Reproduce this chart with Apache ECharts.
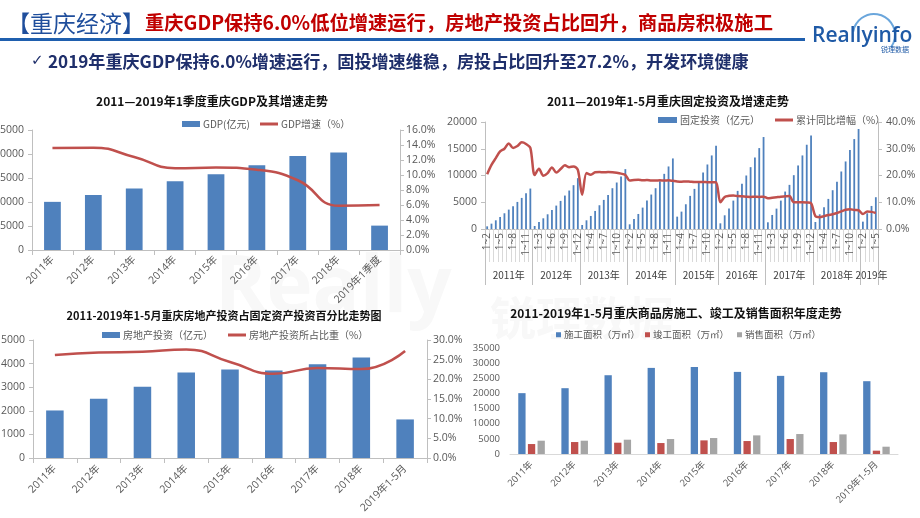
<!DOCTYPE html>
<html><head><meta charset="utf-8">
<script src="https://cdn.jsdelivr.net/npm/echarts@6/dist/echarts.min.js"></script>
<style>html,body{margin:0;padding:0;background:#fff}#c{width:920px;height:518px}</style>
</head><body><div id="c"></div>
<script>
// ---------- Chart 1: GDP ----------
const gdpCategories = ['2011年','2012年','2013年','2014年','2015年','2016年','2017年','2018年','2019年1季度'];
const gdpValues = [10030, 11460, 12800, 14330, 15800, 17680, 19560, 20330, 5080];
const gdpGrowth = [13.6, 13.65, 12.4, 10.9, 11.0, 10.7, 9.3, 5.9, 6.0];

// ---------- Chart 2: fixed-asset investment (monthly cumulative) ----------
const fiYears = ['2011年','2012年','2013年','2014年','2015年','2016年','2017年','2018年','2019年'];
const fiYearSizes = [11, 11, 11, 11, 10, 11, 11, 11, 4];
const fiMonths = [
  '1~2','1~3','1~4','1~5','1~6','1~7','1~8','1~9','1~10','1~11','1~12',
  '1~2','1~3','1~4','1~5','1~6','1~7','1~8','1~9','1~10','1~11','1~12',
  '1~2','1~3','1~4','1~5','1~6','1~7','1~8','1~9','1~10','1~11','1~12',
  '1~2','1~3','1~4','1~5','1~6','1~7','1~8','1~9','1~10','1~11','1~12',
  '1~3','1~4','1~5','1~6','1~7','1~8','1~9','1~10','1~11','1~12',
  '1~2','1~3','1~4','1~5','1~6','1~7','1~8','1~9','1~10','1~11','1~12',
  '1~2','1~3','1~4','1~5','1~6','1~7','1~8','1~9','1~10','1~11','1~12',
  '1~2','1~3','1~4','1~5','1~6','1~7','1~8','1~9','1~10','1~11','1~12',
  '1~2','1~3','1~4','1~5'
];
const fiInvest = [
  500, 1000, 1625, 2250, 2940, 3625, 4250, 5060, 5810, 6690, 7560,
  560, 1310, 2000, 2750, 3560, 4375, 5250, 6250, 7190, 8190, 9500,
  750, 1625, 2440, 3375, 4440, 5440, 6375, 7625, 8690, 9810, 11190,
  875, 1875, 2810, 4000, 5310, 6440, 7625, 8940, 10310, 11690, 13190,
  2310, 3250, 4625, 6190, 7500, 8875, 10560, 12060, 13750, 15560,
  1060, 2560, 3810, 5310, 7125, 8440, 10000, 11560, 13375, 15125, 17190,
  1250, 2625, 3810, 5310, 7000, 8250, 10060, 11875, 13750, 15750, 17500,
  1310, 2750, 4060, 5625, 7250, 8810, 10750, 12625, 14750, 16810, 18690,
  1375, 2940, 4310, 5940
];
const fiGrowth = [
  20.5, 24.0, 26.5, 29.0, 30.0, 32.0, 30.3, 31.0, 32.4, 31.8, 30.3,
  20.2, 22.5, 19.9, 20.9, 23.0, 21.1, 22.4, 23.8, 23.1, 23.4, 22.1,
  12.8, 20.9, 20.3, 21.2, 21.3, 21.2, 21.3, 21.2, 21.0, 20.7, 20.2,
  18.1, 18.3, 18.4, 18.2, 18.3, 18.1, 18.1, 18.2, 18.1, 18.2, 18.0,
  17.8, 17.7, 17.8, 17.7, 17.6, 17.6, 17.6, 17.5, 17.5, 17.5,
  10.0, 12.0, 12.4, 12.5, 12.3, 12.2, 12.1, 12.0, 12.1, 12.0, 12.1,
  11.5, 11.7, 11.9, 12.1, 12.2, 12.3, 10.0, 10.0, 10.0, 9.9, 9.6,
  4.8, 4.4, 4.8, 5.2, 5.5, 6.0, 6.6, 7.2, 7.4, 7.1, 7.0,
  5.6, 6.5, 6.4, 6.0
];

// ---------- Chart 3: real-estate investment share ----------
const reCategories = ['2011年','2012年','2013年','2014年','2015年','2016年','2017年','2018年','2019年1-5月'];
const reInvest = [2014, 2507, 3014, 3620, 3746, 3704, 3972, 4254, 1634];
const reShare = [26.2, 26.8, 27.0, 27.6, 24.4, 21.4, 22.9, 22.6, 27.2];

// ---------- Chart 4: commodity housing areas ----------
const areaCategories = ['2011年','2012年','2013年','2014年','2015年','2016年','2017年','2018年','2019年1-5月'];
const areaConstruction = [20090, 21730, 26010, 28430, 28760, 27110, 25800, 27000, 24040];
const areaCompletion = [3290, 3950, 3730, 3620, 4500, 4280, 4940, 3950, 1100];
const areaSales = [4390, 4390, 4720, 4940, 5270, 6150, 6590, 6480, 2410];

// ---------- build ----------
const FONT = '"Open Sans","Noto Sans CJK SC",sans-serif';
const CJK = '"Noto Sans CJK SC",sans-serif';
const BLUE = '#4f81bd', RED = '#c0504d', GRAY = '#a5a5a5';
const AX = '#bfbfbf', LBL = '#595959';

const yearStarts = new Set();
const yearCenters = {};
let acc = 0;
fiYearSizes.forEach((n, k) => { yearStarts.add(acc); yearCenters[acc + Math.ceil((n - 1) / 2)] = fiYears[k]; acc += n; });

const pct = v => v.toFixed(1) + '%';
const plain = v => String(v);

function catAxis(grid, data, extra) {
  return Object.assign({
    type: 'category', gridIndex: grid, data: data, position: 'bottom',
    axisLine: {show: true, lineStyle: {color: AX, width: 1}},
    axisTick: {show: true, length: 5, lineStyle: {color: AX}},
    axisLabel: {rotate: 45, interval: 0, fontSize: 10.5, color: LBL, margin: 8, fontFamily: FONT, hideOverlap: false},
    splitLine: {show: false}
  }, extra || {});
}
function valAxis(grid, min, max, interval, pos, extra) {
  return Object.assign({
    type: 'value', gridIndex: grid, min: min, max: max, interval: interval, position: pos,
    axisLine: {show: true, lineStyle: {color: AX}},
    axisTick: {show: true, length: 4, lineStyle: {color: AX}},
    axisLabel: {fontSize: 10.5, color: LBL, margin: 8, fontFamily: FONT, formatter: plain},
    splitLine: {show: false}
  }, extra || {});
}
function lg(name, left, top, w, h, fs) {
  return {data: [name], left: left, top: top, padding: 0, itemWidth: w, itemHeight: h, icon: 'rect',
    itemGap: 0, textStyle: {fontSize: fs || 10, color: LBL, fontFamily: CJK, padding: [0, 0, 0, -2]}};
}
function title(text, x, y, fs) {
  return {type: 'text', x: x, y: y, z: 10, style: {text: text, align: 'center', verticalAlign: 'middle',
    textAlign: 'center', textVerticalAlign: 'middle', fontSize: fs, fontWeight: 'bold', fill: '#111', fontFamily: CJK}};
}

const chart = echarts.init(document.getElementById('c'), null, {renderer: 'canvas'});
const option = {
  animation: false,
  backgroundColor: '#fff',
  textStyle: {fontFamily: FONT},
  grid: [
    {left: 32, top: 130, width: 368, height: 120, outerBoundsMode: 'none', containLabel: false},
    {left: 485, top: 122, width: 393, height: 107, outerBoundsMode: 'none', containLabel: false},
    {left: 33, top: 340, width: 394, height: 118, outerBoundsMode: 'none', containLabel: false},
    {left: 510, top: 348, width: 388, height: 106, outerBoundsMode: 'none', containLabel: false}
  ],
  xAxis: [
    catAxis(0, gdpCategories),
    catAxis(1, fiMonths, {
      axisTick: {show: true, interval: 0, length: 33, lineStyle: {color: '#d9d9d9'}},
      axisLabel: {rotate: 90, interval: 2, fontSize: 10, color: LBL, margin: 4, fontFamily: FONT, hideOverlap: false}
    }),
    catAxis(1, fiMonths, {
      position: 'bottom',
      axisLine: {show: false},
      axisTick: {show: true, interval: (i) => yearStarts.has(i), length: 56, lineStyle: {color: AX}},
      axisLabel: {rotate: 0, interval: (i) => yearCenters[i] !== undefined, formatter: (v, i) => yearCenters[i] || '',
        fontSize: 10, color: '#404040', margin: 41, fontFamily: CJK, hideOverlap: false}
    }),
    catAxis(2, reCategories, {axisLabel: {rotate: 45, interval: 0, fontSize: 10.5, color: LBL, margin: 9, fontFamily: FONT, hideOverlap: false}}),
    catAxis(3, areaCategories, {
      axisLine: {show: true, lineStyle: {color: '#d9d9d9'}},
      axisTick: {show: false},
      axisLabel: {rotate: 45, interval: 0, fontSize: 9.5, color: LBL, margin: 9, fontFamily: FONT, hideOverlap: false}
    })
  ],
  yAxis: [
    valAxis(0, 0, 25000, 5000, 'left'),
    valAxis(0, 0, 16, 2, 'right', {axisLabel: {fontSize: 10.5, color: LBL, margin: 6, formatter: pct, fontFamily: FONT}}),
    valAxis(1, 0, 20000, 5000, 'left'),
    valAxis(1, 0, 40, 10, 'right', {axisLabel: {fontSize: 10.5, color: LBL, margin: 8, formatter: pct, fontFamily: FONT}}),
    valAxis(2, 0, 5000, 1000, 'left'),
    valAxis(2, 0, 30, 5, 'right', {axisLabel: {fontSize: 10.5, color: LBL, margin: 6, formatter: pct, fontFamily: FONT}}),
    valAxis(3, 0, 35000, 5000, 'left', {axisLine: {show: false}, axisTick: {show: false},
      axisLabel: {fontSize: 9.5, color: LBL, margin: 10, fontFamily: FONT, formatter: plain}})
  ],
  legend: [
    lg('GDP(亿元)', 182, 119, 18, 6),
    lg('GDP增速（%）', 260, 119, 18, 3),
    lg('固定投资（亿元）', 658, 115, 19, 6),
    lg('累计同比增幅（%）', 775, 115, 18, 3),
    lg('房地产投资（亿元）', 102, 330, 18, 6),
    lg('房地产投资所占比重（%）', 228, 330, 18, 3),
    lg('施工面积（万㎡）', 556, 330, 5, 5, 9.5),
    lg('竣工面积（万㎡）', 645, 330, 5, 5, 9.5),
    lg('销售面积（万㎡）', 737, 330, 5, 5, 9.5)
  ],
  series: [
    {name: 'GDP(亿元)', type: 'bar', xAxisIndex: 0, yAxisIndex: 0, data: gdpValues, barWidth: '41%', itemStyle: {color: BLUE}},
    {name: 'GDP增速（%）', type: 'line', xAxisIndex: 0, yAxisIndex: 1, data: gdpGrowth, smooth: true, symbol: 'none',
      lineStyle: {color: RED, width: 2.5}, itemStyle: {color: RED}},
    {name: '固定投资（亿元）', type: 'bar', xAxisIndex: 1, yAxisIndex: 2, data: fiInvest, barWidth: 1.8, itemStyle: {color: BLUE}},
    {name: '累计同比增幅（%）', type: 'line', xAxisIndex: 1, yAxisIndex: 3, data: fiGrowth, smooth: 0.3, symbol: 'none',
      lineStyle: {color: RED, width: 2.5}, itemStyle: {color: RED}},
    {name: '房地产投资（亿元）', type: 'bar', xAxisIndex: 3, yAxisIndex: 4, data: reInvest, barWidth: '40%', itemStyle: {color: BLUE}},
    {name: '房地产投资所占比重（%）', type: 'line', xAxisIndex: 3, yAxisIndex: 5, data: reShare, smooth: true, symbol: 'none',
      lineStyle: {color: RED, width: 2.5}, itemStyle: {color: RED}},
    {name: '施工面积（万㎡）', type: 'bar', xAxisIndex: 4, yAxisIndex: 6, data: areaConstruction, barWidth: 7.3, barGap: '32%', itemStyle: {color: BLUE}},
    {name: '竣工面积（万㎡）', type: 'bar', xAxisIndex: 4, yAxisIndex: 6, data: areaCompletion, barWidth: 7.3, barGap: '32%', itemStyle: {color: RED}},
    {name: '销售面积（万㎡）', type: 'bar', xAxisIndex: 4, yAxisIndex: 6, data: areaSales, barWidth: 7.3, barGap: '32%', itemStyle: {color: GRAY}}
  ],
  graphic: [
    // faint watermark
    {type: 'text', x: 215, y: 290, z: -5, silent: true, style: {text: 'Really', fontSize: 78, fontWeight: 'bold', fill: '#f8f8f8', verticalAlign: 'middle', fontFamily: FONT}},
    {type: 'text', x: 490, y: 318, z: -5, silent: true, style: {text: '锐理数据', fontSize: 46, fontWeight: 'bold', fill: '#f8f8f8', verticalAlign: 'middle', fontFamily: CJK}},
    // header
    {type: 'text', x: 7, y: 23, style: {text: '【重庆经济】', fontSize: 23, fill: '#1f4e9c', verticalAlign: 'middle', textVerticalAlign: 'middle', fontFamily: CJK}},
    {type: 'text', x: 145, y: 23, style: {text: '重庆GDP保持6.0%低位增速运行，房地产投资占比回升，商品房积极施工', fontSize: 19.3, fontWeight: 'bold', fill: '#c00000', verticalAlign: 'middle', textVerticalAlign: 'middle', fontFamily: CJK}},
    {type: 'rect', shape: {x: 0, y: 38, width: 805, height: 3}, style: {fill: '#1f5fae'}},
    {type: 'text', x: 31, y: 61, style: {text: '✓', fontSize: 15, fill: '#1f2f6b', verticalAlign: 'middle', textVerticalAlign: 'middle', fontFamily: '"DejaVu Sans",sans-serif'}},
    {type: 'text', x: 48, y: 61, style: {text: '2019年重庆GDP保持6.0%增速运行，固投增速维稳，房投占比回升至27.2%，开发环境健康', fontSize: 17.1, fontWeight: 'bold', fill: '#1f2f6b', verticalAlign: 'middle', textVerticalAlign: 'middle', fontFamily: CJK}},
    // logo
    {type: 'arc', shape: {cx: 874, cy: 35, r: 21, startAngle: Math.PI * 1.05, endAngle: Math.PI * 2.2, clockwise: true}, style: {stroke: '#6aa6dc', lineWidth: 2, fill: null}},
    {type: 'text', x: 812, y: 36, style: {text: 'Reallyinfo', fontSize: 21, fontWeight: 600, fill: '#1f5aa6', verticalAlign: 'middle', textVerticalAlign: 'middle', fontFamily: FONT}},
    {type: 'text', x: 895, y: 49, style: {text: '锐理数据', fontSize: 7, fill: '#1f5aa6', align: 'center', textAlign: 'center', verticalAlign: 'middle', textVerticalAlign: 'middle', fontFamily: CJK}},
    // chart titles
    title('2011—2019年1季度重庆GDP及其增速走势', 212, 101.5, 12),
    title('2011—2019年1-5月重庆固定投资及增速走势', 668, 101.5, 12),
    title('2011-2019年1-5月重庆房地产投资占固定资产投资百分比走势图', 224, 315.5, 11),
    title('2011-2019年1-5月重庆商品房施工、竣工及销售面积年度走势', 676, 313, 12)
  ]
};
chart.setOption(option);
</script></body></html>
